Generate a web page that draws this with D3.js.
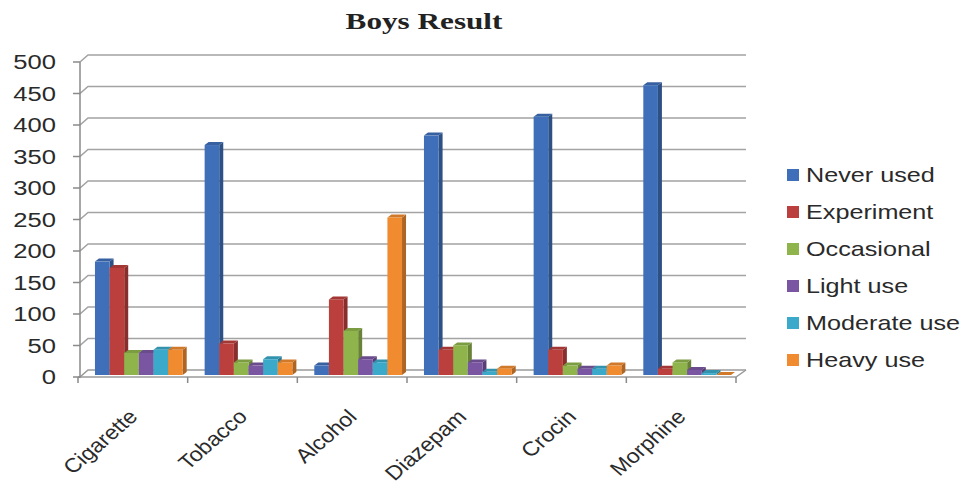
<!DOCTYPE html>
<html>
<head>
<meta charset="utf-8">
<script src="https://cdn.jsdelivr.net/npm/d3@7"></script>
<style>
  html, body { margin: 0; padding: 0; background: #fff; }
  svg { display: block; }
</style>
</head>
<body>
<svg id="chart" width="963" height="487"></svg>
<script>
// Substance use among boys, by level of use
const categories = ["Cigarette", "Tobacco", "Alcohol", "Diazepam", "Crocin", "Morphine"];
const seriesNames = ["Never used", "Experiment", "Occasional", "Light use", "Moderate use", "Heavy use"];
const neverUsed   = [180, 365, 15, 380, 410, 460];
const experiment  = [170, 50, 120, 40, 40, 10];
const occasional  = [35, 20, 70, 47, 15, 20];
const lightUse    = [35, 15, 25, 20, 10, 8];
const moderateUse = [40, 25, 20, 5, 10, 3];
const heavyUse    = [40, 20, 250, 10, 15, 0];
const yTicks = [0, 50, 100, 150, 200, 250, 300, 350, 400, 450, 500];

const seriesValues = [neverUsed, experiment, occasional, lightUse, moderateUse, heavyUse];
const colors = ["#3f6fb8", "#bb403d", "#8fb44c", "#7a56a2", "#3ba9c9", "#f08b30"];

const svg = d3.select("#chart");
const SX = 1.28; // horizontal text widening

// Front plane of the plot (floor front edge and left axis)
const x = d3.scaleBand(categories, [78, 736]).paddingInner(0.2).paddingOuter(0.1);
const inner = d3.scaleBand(seriesNames, [0, x.bandwidth()]);
const y = d3.scaleLinear([0, 500], [377, 62]);

// Depth of the floor, and of each bar
const depth = { dx: 10, dy: -7 };
const barShift = { dx: 6, dy: -2 };
const barDepth = { dx: 4, dy: -3 };
const xLeft = x.range()[0], xRight = x.range()[1];

// Title
svg.append("text")
  .attr("transform", `translate(424,29) scale(1.3,1)`)
  .attr("text-anchor", "middle")
  .style("font-family", "'Liberation Serif', 'DejaVu Serif', serif")
  .style("font-weight", "bold")
  .style("font-size", "24px")
  .attr("fill", "#222")
  .text("Boys Result");

// Gridlines: side wall diagonal then along the back wall
const grid = svg.append("g");
yTicks.forEach(v => {
  const yf = y(v);
  grid.append("path")
    .attr("d", `M${xLeft + 2},${yf} L${xLeft + depth.dx},${yf + depth.dy} L${xRight + depth.dx},${yf + depth.dy}`)
    .attr("fill", "none")
    .attr("stroke", v === 0 ? "#9a9a9a" : "#a3a3a3")
    .attr("stroke-width", 1.6);
});

// Floor edges
const floor = svg.append("g").attr("stroke", "#9a9a9a").attr("stroke-width", 1.5).attr("fill", "none");
floor.append("path")
  .attr("d", `M${xLeft},${y(0)} L${xRight},${y(0)} L${xRight + depth.dx},${y(0) + depth.dy}`);

// Vertical axis with ticks
const axisG = svg.append("g").attr("stroke", "#8a8a8a").attr("stroke-width", 1.5);
axisG.append("line").attr("x1", xLeft + 2).attr("x2", xLeft + 2).attr("y1", y(500)).attr("y2", y(0) + 1);
yTicks.forEach(v => {
  axisG.append("line").attr("x1", xLeft - 5).attr("x2", xLeft + 2).attr("y1", y(v)).attr("y2", y(v));
});
svg.append("g").selectAll("text").data(yTicks).join("text")
  .attr("transform", d => `translate(56,${y(d) + 7}) scale(${SX},1)`)
  .attr("text-anchor", "end")
  .style("font-family", "'Liberation Sans', Arial, sans-serif")
  .style("font-size", "20px")
  .attr("fill", "#2a2a2a")
  .text(d => d);

// Category ticks on the floor front edge
const tickXs = categories.map(c => x(c) - x.step() * x.paddingInner() / 2).concat([xRight]);
svg.append("g").selectAll("line").data(tickXs).join("line")
  .attr("x1", d => d).attr("x2", d => d)
  .attr("y1", y(0)).attr("y2", y(0) + 6)
  .attr("stroke", "#8a8a8a").attr("stroke-width", 1.5);

// 3D columns
const bars = svg.append("g");
categories.forEach((c, ci) => {
  seriesNames.forEach((s, si) => {
    const v = seriesValues[si][ci];
    const base = d3.color(colors[si]);
    const x0 = x(c) + inner(s) + barShift.dx;
    const w = inner.bandwidth();
    const yBot = y(0) + barShift.dy;
    const yTop = y(v) + barShift.dy;
    const g = bars.append("g");
    // right side face
    g.append("path")
      .attr("d", `M${x0 + w},${yTop} L${x0 + w + barDepth.dx},${yTop + barDepth.dy} L${x0 + w + barDepth.dx},${yBot + barDepth.dy} L${x0 + w},${yBot} Z`)
      .attr("fill", base.darker(0.9));
    // top face
    g.append("path")
      .attr("d", `M${x0},${yTop} L${x0 + barDepth.dx},${yTop + barDepth.dy} L${x0 + w + barDepth.dx},${yTop + barDepth.dy} L${x0 + w},${yTop} Z`)
      .attr("fill", base.darker(0.4));
    // front face
    g.append("rect")
      .attr("x", x0).attr("y", yTop)
      .attr("width", w).attr("height", Math.max(0, yBot - yTop))
      .attr("fill", base);
  });
});

// Category labels
svg.append("g").selectAll("text").data(categories).join("text")
  .attr("transform", d => `translate(${x(d) + x.bandwidth() / 2 + 6},${418}) scale(1.15,1) rotate(-45)`)
  .attr("text-anchor", "end")
  .style("font-family", "'Liberation Sans', Arial, sans-serif")
  .style("font-size", "20px")
  .attr("fill", "#2a2a2a")
  .text(d => d);

// Legend
const legend = svg.append("g").attr("transform", "translate(787,175)");
seriesNames.forEach((s, i) => {
  const row = legend.append("g").attr("transform", `translate(0,${i * 37})`);
  row.append("rect").attr("x", 0).attr("y", -6).attr("width", 12).attr("height", 12).attr("fill", colors[i]);
  row.append("text")
    .attr("transform", `translate(19,7) scale(1.26,1)`)
    .style("font-family", "'Liberation Sans', Arial, sans-serif")
    .style("font-size", "20px")
    .attr("fill", "#2a2a2a")
    .text(s);
});
</script>
</body>
</html>
